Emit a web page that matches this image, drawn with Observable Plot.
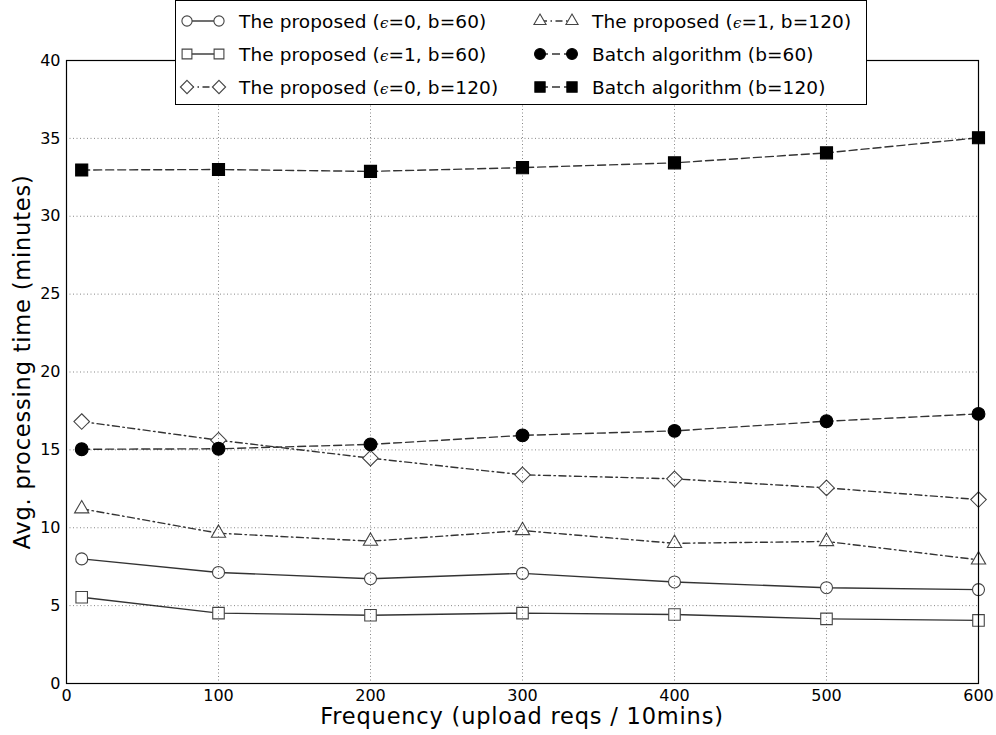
<!DOCTYPE html>
<html>
<head>
<meta charset="utf-8">
<script src="https://cdn.jsdelivr.net/npm/d3@7"></script>
<script src="https://cdn.jsdelivr.net/npm/@observablehq/plot@0.6"></script>
<style>
  html, body { margin: 0; padding: 0; background: #fff; }
  #wrap { position: relative; width: 996px; height: 735px; font-family: "DejaVu Sans", sans-serif; }
  #legend { position: absolute; left: 175px; top: 0px; width: 692px; height: 105px; background: #fff; border: 1px solid #000; box-sizing: border-box; }
  .item { position: absolute; height: 26px; display: flex; align-items: center; font-size: 18.5px; letter-spacing: 0.1px; color: #000; white-space: nowrap; }
  .item svg { margin-right: 12px; }
  .eps { font-style: italic; font-family: "DejaVu Serif", serif; font-size: 15px; }
  #xlabel { position: absolute; left: 66px; width: 912px; top: 703px; text-align: center; font-size: 22.5px; letter-spacing: 0.8px; }
  #ylabel { position: absolute; left: 22px; top: 362px; transform: translate(-50%, -50%) rotate(-90deg); font-size: 22.5px; letter-spacing: 0.8px; white-space: nowrap; }
</style>
</head>
<body>
<div id="wrap"></div>
<script>
// ---- data ----
const frequency = [10, 100, 200, 300, 400, 500, 600];
const proposedE0B60  = [8.0, 7.13, 6.73, 7.07, 6.52, 6.15, 6.03];
const proposedE1B60  = [5.54, 4.52, 4.38, 4.52, 4.43, 4.15, 4.05];
const proposedE0B120 = [16.82, 15.62, 14.47, 13.4, 13.14, 12.56, 11.81];
const proposedE1B120 = [11.22, 9.65, 9.14, 9.82, 9.0, 9.12, 7.94];
const batchB60       = [15.04, 15.07, 15.35, 15.93, 16.22, 16.84, 17.31];
const batchB120      = [32.97, 33.0, 32.88, 33.12, 33.43, 34.07, 35.04];
const xTicks = [0, 100, 200, 300, 400, 500, 600];
const yTicks = [0, 5, 10, 15, 20, 25, 30, 35, 40];
const xLabel = "Frequency (upload reqs / 10mins)";
const yLabel = "Avg. processing time (minutes)";

const series = [
  {name: "The proposed (ϵ=0, b=60)",  values: proposedE0B60,  symbol: "circle",   r: 6,   fill: "#fff", stroke: "#444", dash: null},
  {name: "The proposed (ϵ=1, b=60)",  values: proposedE1B60,  symbol: "square",   r: 6.5, fill: "#fff", stroke: "#444", dash: null},
  {name: "The proposed (ϵ=0, b=120)", values: proposedE0B120, symbol: "diamond2", r: 7,   fill: "#fff", stroke: "#444", dash: "7,3.5,1.5,3.5"},
  {name: "The proposed (ϵ=1, b=120)", values: proposedE1B120, symbol: "triangle", r: 5.3, fill: "#fff", stroke: "#444", dash: "7,3.5,1.5,3.5"},
  {name: "Batch algorithm (b=60)",    values: batchB60,       symbol: "circle",   r: 6.4, fill: "#000", stroke: "#000", dash: "8,4"},
  {name: "Batch algorithm (b=120)",   values: batchB120,      symbol: "square",   r: 6.8, fill: "#000", stroke: "#000", dash: "8,4"}
];

const marks = [];
for (const s of series) {
  const rows = frequency.map((f, i) => ({x: f, y: s.values[i]}));
  marks.push(Plot.line(rows, {x: "x", y: "y", stroke: "#333", strokeWidth: 1.4, strokeDasharray: s.dash ?? undefined}));
}
for (const s of series) {
  const rows = frequency.map((f, i) => ({x: f, y: s.values[i]}));
  marks.push(Plot.dot(rows, {x: "x", y: "y", symbol: () => s.symbol, r: s.r, fill: s.fill, stroke: s.stroke, strokeWidth: 1.1}));
}

const chart = Plot.plot({
  width: 996,
  height: 735,
  marginLeft: 66,
  marginRight: 18,
  marginTop: 60,
  marginBottom: 52,
  style: {fontFamily: "'DejaVu Sans', sans-serif", fontSize: "16px", background: "#fff", color: "#000"},
  x: {domain: [0, 600]},
  y: {domain: [0, 40]},
  symbol: {type: "identity"},
  marks: [
    ...marks,
    Plot.gridX(xTicks, {stroke: "#000", strokeOpacity: 0.6, strokeDasharray: "1,2.5", strokeWidth: 0.8}),
    Plot.gridY(yTicks, {stroke: "#000", strokeOpacity: 0.6, strokeDasharray: "1,2.5", strokeWidth: 0.8}),
    Plot.axisX(xTicks, {tickSize: 0, tickPadding: 6, label: null, fontSize: 16}),
    Plot.axisY(yTicks, {tickSize: 0, tickPadding: 6, label: null, fontSize: 16}),
    Plot.frame({stroke: "#000", strokeWidth: 1.2})
  ]
});

const wrap = document.getElementById("wrap");
wrap.appendChild(chart);

// axis titles
const xl = document.createElement("div"); xl.id = "xlabel"; xl.textContent = xLabel; wrap.appendChild(xl);
const yl = document.createElement("div"); yl.id = "ylabel"; yl.textContent = yLabel; wrap.appendChild(yl);

// legend
const legend = document.createElement("div"); legend.id = "legend"; wrap.appendChild(legend);
function symbolPath(sym, r) {
  const map = {circle: d3.symbolCircle, square: d3.symbolSquare, diamond2: d3.symbolDiamond2, triangle: d3.symbolTriangle};
  return d3.symbol(map[sym], Math.PI * r * r)();
}
const pos = [
  {left: 3, top: 7}, {left: 3, top: 40}, {left: 3, top: 73},
  {left: 356, top: 7}, {left: 356, top: 40}, {left: 356, top: 73}
];
series.forEach((s, i) => {
  const it = document.createElement("div");
  it.className = "item";
  it.style.left = pos[i].left + "px";
  it.style.top = pos[i].top + "px";
  const W = 48, H = 22, r = s.r * 0.85;
  const svg = d3.create("svg").attr("width", W).attr("height", H);
  svg.append("line").attr("x1", 8).attr("x2", W - 8).attr("y1", H / 2).attr("y2", H / 2)
    .attr("stroke", "#333").attr("stroke-width", 1.4).attr("stroke-dasharray", s.dash || null);
  for (const cx of [8, W - 8]) {
    svg.append("path").attr("d", symbolPath(s.symbol, r)).attr("transform", `translate(${cx},${H / 2})`)
      .attr("fill", s.fill).attr("stroke", s.stroke).attr("stroke-width", 1.1);
  }
  it.appendChild(svg.node());
  const span = document.createElement("span");
  const parts = s.name.split("ϵ");
  if (parts.length === 2) {
    span.append(parts[0]);
    const e = document.createElement("span"); e.className = "eps"; e.textContent = "ϵ"; span.append(e);
    span.append(parts[1]);
  } else span.textContent = s.name;
  it.appendChild(span);
  legend.appendChild(it);
});
</script>
</body>
</html>
